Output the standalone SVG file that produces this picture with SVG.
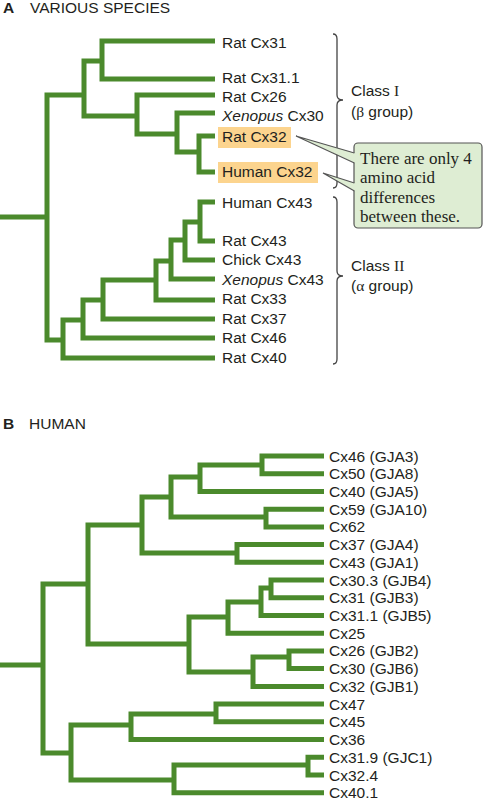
<svg xmlns="http://www.w3.org/2000/svg" width="484" height="800" viewBox="0 0 484 800">
<style>
.e{fill:none;stroke:#4b8a2c;stroke-width:5;stroke-linejoin:miter;stroke-linecap:butt}
.t{font-family:"Liberation Sans",Arial,sans-serif;font-size:15.5px;fill:#231f20}
.s{font-family:"Liberation Serif","Times New Roman",serif}
.h{fill:#fcd48e}
.br{fill:none;stroke:#444;stroke-width:1.3}
.c{font-family:"Liberation Serif","Times New Roman",serif;font-size:17px;fill:#231f20}
</style>
<rect width="484" height="800" fill="#fff"/>
<g id="titles">
<text class="t" x="3" y="12.5"><tspan font-weight="bold">A</tspan><tspan x="30">VARIOUS SPECIES</tspan></text>
<text class="t" x="3" y="429"><tspan font-weight="bold">B</tspan><tspan x="29">HUMAN</tspan></text>
</g>
<g id="highlights">
<rect class="h" x="218" y="127" width="73" height="21"/>
<rect class="h" x="218" y="162" width="100" height="21"/>
</g>
<g id="connectors">
<path class="e" d="M0,217H47"/>
<path class="e" d="M47,217V95H84"/>
<path class="e" d="M47,217V340H63"/>
<path class="e" d="M84,95V61H102"/>
<path class="e" d="M84,95V116H137"/>
<path class="e" d="M102,61V41H215"/>
<path class="e" d="M102,61V79H215"/>
<path class="e" d="M137,116V95H215"/>
<path class="e" d="M137,116V134H177"/>
<path class="e" d="M177,134V113H215"/>
<path class="e" d="M177,134V152H199"/>
<path class="e" d="M199,152V136H215"/>
<path class="e" d="M199,152V172H215"/>
<path class="e" d="M63,340V358H215"/>
<path class="e" d="M63,340V320H83"/>
<path class="e" d="M83,320V338H215"/>
<path class="e" d="M83,320V300H103"/>
<path class="e" d="M103,300V319H215"/>
<path class="e" d="M103,300V280H156"/>
<path class="e" d="M156,280V300H215"/>
<path class="e" d="M156,280V261H171"/>
<path class="e" d="M171,261V279H215"/>
<path class="e" d="M171,261V240H185"/>
<path class="e" d="M185,240V260H215"/>
<path class="e" d="M185,240V222H200"/>
<path class="e" d="M200,222V202H215"/>
<path class="e" d="M200,222V241H215"/>

<path class="e" d="M0,665H43"/>
<path class="e" d="M43,665V584H88"/>
<path class="e" d="M43,665V753H71"/>
<path class="e" d="M88,584V525H142"/>
<path class="e" d="M88,584V644H189"/>
<path class="e" d="M142,525V497H171"/>
<path class="e" d="M142,525V553H237"/>
<path class="e" d="M171,497V477H200"/>
<path class="e" d="M171,497V517H266"/>
<path class="e" d="M200,477V465H262"/>
<path class="e" d="M200,477V491.4H324"/>
<path class="e" d="M262,465V456H324"/>
<path class="e" d="M262,465V473.7H324"/>
<path class="e" d="M266,517V509.2H324"/>
<path class="e" d="M266,517V526.9H324"/>
<path class="e" d="M237,553V544.6H324"/>
<path class="e" d="M237,553V562.3H324"/>
<path class="e" d="M189,644V617H228"/>
<path class="e" d="M189,644V672H253"/>
<path class="e" d="M228,617V602H261"/>
<path class="e" d="M228,617V633.2H324"/>
<path class="e" d="M261,602V588H271"/>
<path class="e" d="M261,602V615.5H324"/>
<path class="e" d="M271,588V580H324"/>
<path class="e" d="M271,588V597.8H324"/>
<path class="e" d="M253,672V657H289"/>
<path class="e" d="M253,672V686.4H324"/>
<path class="e" d="M289,657V650.9H324"/>
<path class="e" d="M289,657V668.6H324"/>
<path class="e" d="M71,753V725H131"/>
<path class="e" d="M71,753V780H174"/>
<path class="e" d="M131,725V714H216"/>
<path class="e" d="M131,725V739.5H324"/>
<path class="e" d="M216,714V704.1H324"/>
<path class="e" d="M216,714V721.8H324"/>
<path class="e" d="M174,780V765H308"/>
<path class="e" d="M174,780V792.7H324"/>
<path class="e" d="M308,765V757.2H324"/>
<path class="e" d="M308,765V775H324"/>
</g>
<g id="labelsA">
<text class="t" x="222" y="47.5">Rat Cx31</text>
<text class="t" x="222" y="83">Rat Cx31.1</text>
<text class="t" x="222" y="101.5">Rat Cx26</text>
<text class="t" x="222" y="120.5"><tspan font-style="italic">Xenopus</tspan> Cx30</text>
<text class="t" x="222" y="142">Rat Cx32</text>
<text class="t" x="222" y="177">Human Cx32</text>
<text class="t" x="222" y="207.5">Human Cx43</text>
<text class="t" x="222" y="245.5">Rat Cx43</text>
<text class="t" x="222" y="265">Chick Cx43</text>
<text class="t" x="222" y="284.5"><tspan font-style="italic">Xenopus</tspan> Cx43</text>
<text class="t" x="222" y="304">Rat Cx33</text>
<text class="t" x="222" y="323.5">Rat Cx37</text>
<text class="t" x="222" y="343">Rat Cx46</text>
<text class="t" x="222" y="363">Rat Cx40</text>
</g>
<g id="classI">
<path class="br" d="M333,34Q337,34 337,39V95Q337,100 343,100Q337,100 337,105V183Q337,188 333,188"/>
<text class="t" x="351" y="96">Class <tspan class="s">I</tspan></text>
<text class="t" x="351" y="116.5">(<tspan class="s">β</tspan> group)</text>
</g>
<g id="classII">
<path class="br" d="M333,197Q337,197 337,202V271Q337,276 343,276Q337,276 337,281V359Q337,364 333,364"/>
<text class="t" x="351" y="271">Class <tspan class="s">II</tspan></text>
<text class="t" x="351" y="290.5">(<tspan class="s">α</tspan> group)</text>
</g>
<g id="callout">
<rect x="354" y="143" width="128" height="85" rx="4" fill="#deedd3" stroke="#555" stroke-width="1.2"/>
<polygon points="296,136 355,153 355,163" fill="#deedd3"/>
<polygon points="323,173 355,183 355,191" fill="#deedd3"/>
<path d="M354.4,153L296,136L354.4,163M354.4,183L323,173L354.4,191" fill="none" stroke="#555" stroke-width="1.2"/>
<text class="c" x="360" y="163.5">There are only 4</text>
<text class="c" x="360" y="183">amino acid</text>
<text class="c" x="360" y="203">differences</text>
<text class="c" x="360" y="222">between these.</text>
</g>
<g id="labelsB">
<text class="t" x="329" y="461.5">Cx46 (GJA3)</text>
<text class="t" x="329" y="479.2">Cx50 (GJA8)</text>
<text class="t" x="329" y="496.9">Cx40 (GJA5)</text>
<text class="t" x="329" y="514.7">Cx59 (GJA10)</text>
<text class="t" x="329" y="532.4">Cx62</text>
<text class="t" x="329" y="550.1">Cx37 (GJA4)</text>
<text class="t" x="329" y="567.8">Cx43 (GJA1)</text>
<text class="t" x="329" y="585.5">Cx30.3 (GJB4)</text>
<text class="t" x="329" y="603.3">Cx31 (GJB3)</text>
<text class="t" x="329" y="621">Cx31.1 (GJB5)</text>
<text class="t" x="329" y="638.7">Cx25</text>
<text class="t" x="329" y="656.4">Cx26 (GJB2)</text>
<text class="t" x="329" y="674.1">Cx30 (GJB6)</text>
<text class="t" x="329" y="691.9">Cx32 (GJB1)</text>
<text class="t" x="329" y="709.6">Cx47</text>
<text class="t" x="329" y="727.3">Cx45</text>
<text class="t" x="329" y="745">Cx36</text>
<text class="t" x="329" y="762.7">Cx31.9 (GJC1)</text>
<text class="t" x="329" y="780.5">Cx32.4</text>
<text class="t" x="329" y="798.2">Cx40.1</text>
</g>
</svg>
